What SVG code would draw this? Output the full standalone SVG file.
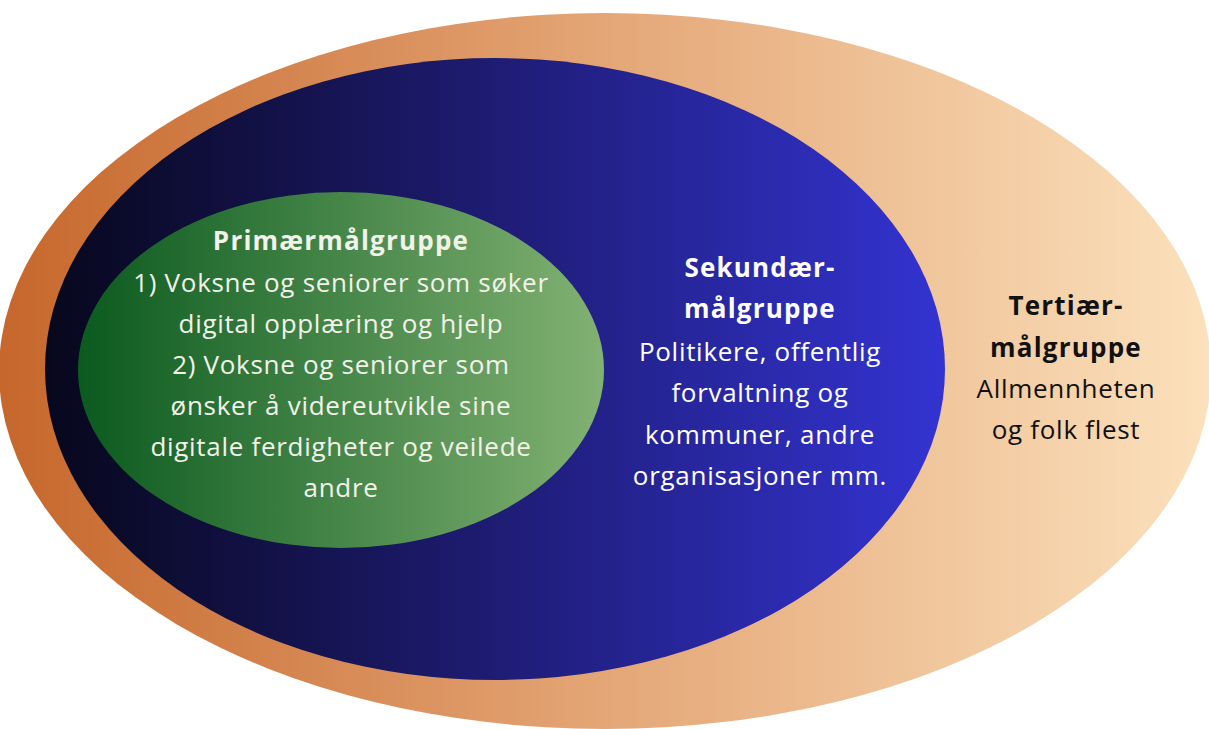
<svg xmlns="http://www.w3.org/2000/svg" width="1209" height="729" viewBox="0 0 1209 729">
<defs>
<linearGradient id="gOuter" x1="0" y1="0" x2="1" y2="0">
<stop offset="0" stop-color="#c6672c"/>
<stop offset="0.5" stop-color="#e4a676"/>
<stop offset="1" stop-color="#fbe1bc"/>
</linearGradient>
<linearGradient id="gBlue" x1="0" y1="0" x2="1" y2="0">
<stop offset="0" stop-color="#07071c"/>
<stop offset="0.45" stop-color="#1c1a6a"/>
<stop offset="1" stop-color="#3333d2"/>
</linearGradient>
<linearGradient id="gGreen" x1="0" y1="0" x2="1" y2="0">
<stop offset="0" stop-color="#0b5a1f"/>
<stop offset="1" stop-color="#82b273"/>
</linearGradient>
</defs>
<style>
text{font-family:"Open Sans","Liberation Sans",sans-serif;font-size:26px;letter-spacing:0.7px;text-anchor:middle}
.b{font-weight:bold;letter-spacing:1.2px}
.w{fill:#ffffff}
.g{fill:#f2f2ea}
.k{fill:#111111}
</style>
<rect width="1209" height="729" fill="#ffffff"/>
<g id="tertiary">
<ellipse cx="605" cy="371" rx="606" ry="358" fill="url(#gOuter)"/>
<text class="b k" x="1066" y="315">Tertiær-</text>
<text class="b k" x="1066" y="357">målgruppe</text>
<text class="k" x="1066" y="398">Allmennheten</text>
<text class="k" x="1066" y="439">og folk flest</text>
</g>
<g id="secondary">
<ellipse cx="495" cy="369" rx="450" ry="311" fill="url(#gBlue)"/>
<text class="b w" x="760" y="277">Sekundær-</text>
<text class="b w" x="760" y="318">målgruppe</text>
<text class="w" x="760" y="361">Politikere, offentlig</text>
<text class="w" x="760" y="402">forvaltning og</text>
<text class="w" x="760" y="444">kommuner, andre</text>
<text class="w" x="760" y="485">organisasjoner mm.</text>
</g>
<g id="primary">
<ellipse cx="341" cy="370" rx="263" ry="178" fill="url(#gGreen)"/>
<text class="b g" x="341" y="250">Primærmålgruppe</text>
<text class="g" x="341" y="292">1) Voksne og seniorer som søker</text>
<text class="g" x="341" y="333">digital opplæring og hjelp</text>
<text class="g" x="341" y="374">2) Voksne og seniorer som</text>
<text class="g" x="341" y="415">ønsker å videreutvikle sine</text>
<text class="g" x="341" y="456">digitale ferdigheter og veilede</text>
<text class="g" x="341" y="497">andre</text>
</g>
<g id="connectors"/>
</svg>
